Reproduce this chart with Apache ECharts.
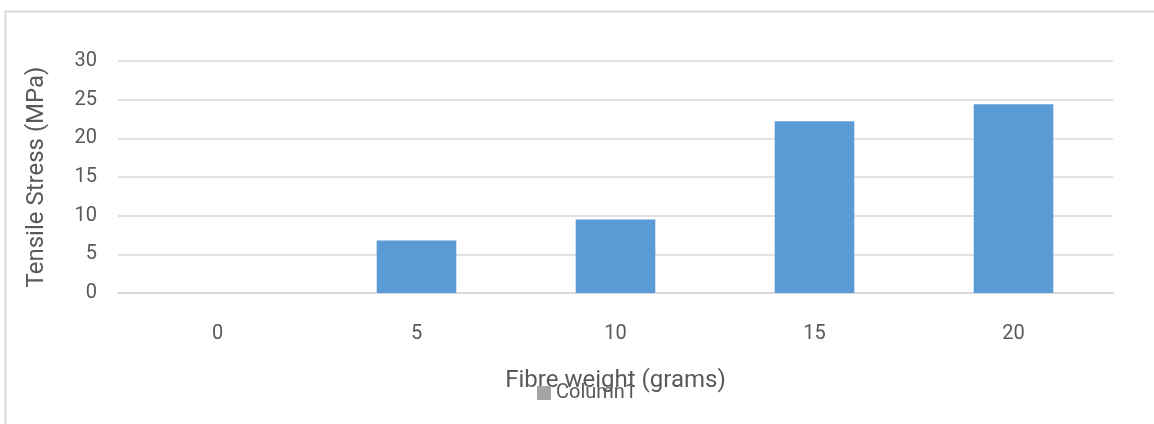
<!DOCTYPE html>
<html><head><meta charset="utf-8">
<script src="https://cdn.jsdelivr.net/npm/echarts@6/dist/echarts.min.js"></script>
<style>html,body{margin:0;padding:0;background:#fff}#c{width:1154px;height:424px}</style>
</head><body><div id="c"></div>
<script>
const categories = ['0', '5', '10', '15', '20'];
const column1 = [0, 6.8, 9.5, 22.2, 24.4];
const yTicks = [0, 5, 10, 15, 20, 25, 30];

const chart = echarts.init(document.getElementById('c'), null, {renderer: 'canvas'});
const font = 'Roboto, "Open Sans", sans-serif';
chart.setOption({
  animation: false,
  graphic: [{
    type: 'rect', left: 3, top: 9,
    shape: {x: 0, y: 0, width: 1200, height: 500},
    style: {fill: 'none', stroke: '#d9d9d9', lineWidth: 2}, z: -1
  }],
  grid: {left: 118, right: 41, top: 61, bottom: 131},
  legend: {
    data: ['Column1'], left: 532, top: 378, itemWidth: 14, itemHeight: 14, itemGap: 4,
    icon: 'rect', itemStyle: {color: '#a5a5a5'},
    textStyle: {color: '#595959', fontSize: 20, fontFamily: font, padding: [0, 0, 0, 0]}
  },
  xAxis: {
    type: 'category', data: categories,
    name: 'Fibre weight (grams)', nameLocation: 'middle', nameGap: 76,
    nameTextStyle: {color: '#595959', fontSize: 24, fontFamily: font},
    axisLine: {lineStyle: {color: '#d9d9d9', width: 2}},
    axisTick: {show: false},
    axisLabel: {color: '#595959', fontSize: 20, fontFamily: font, margin: 31}
  },
  yAxis: {
    type: 'value', min: yTicks[0], max: yTicks[yTicks.length - 1], interval: 5,
    name: 'Tensile Stress (MPa)', nameLocation: 'middle', nameGap: 69, nameRotate: 90,
    nameTextStyle: {color: '#595959', fontSize: 24, fontFamily: font},
    axisLine: {show: false}, axisTick: {show: false},
    splitLine: {lineStyle: {color: '#d9d9d9', width: 1.5}},
    axisLabel: {color: '#595959', fontSize: 20, fontFamily: font, margin: 21}
  },
  series: [{
    name: 'Column1', type: 'bar', data: column1, barWidth: '40%',
    itemStyle: {color: '#5b9bd5'}
  }]
});
</script></body></html>
